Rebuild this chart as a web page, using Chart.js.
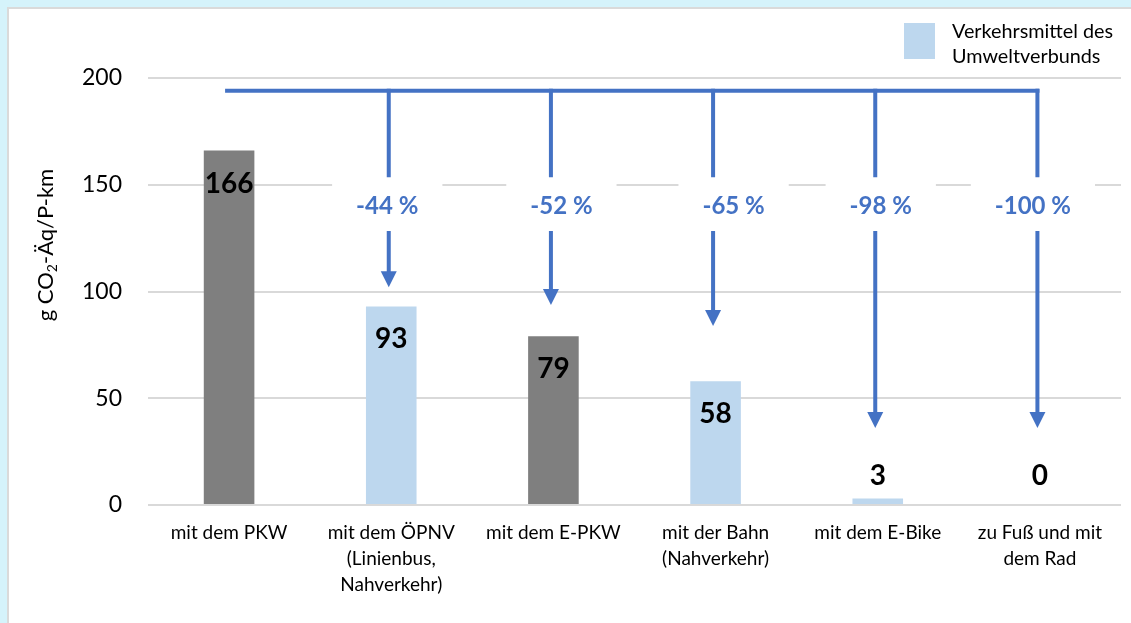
<!DOCTYPE html>
<html>
<head>
<meta charset="utf-8">
<script src="https://cdn.jsdelivr.net/npm/chart.js@4"></script>
<style>
  html, body { margin: 0; padding: 0; }
  body { width: 1131px; height: 623px; overflow: hidden; background: #d5f3fb; position: relative; }
  #panel { position: absolute; left: 7px; top: 7px; width: 1200px; height: 700px; background: #fff;
           border: 2px solid #dadada; box-sizing: border-box; }
  #wrap { position: absolute; left: 0; top: 0; width: 1131px; height: 623px; }
</style>
</head>
<body>
<div id="panel"></div>
<div id="wrap"><canvas id="c"></canvas></div>
<script>
// Emissions per passenger-kilometre by mode of transport
const categories = [
  ["mit dem PKW"],
  ["mit dem ÖPNV", "(Linienbus,", "Nahverkehr)"],
  ["mit dem E-PKW"],
  ["mit der Bahn", "(Nahverkehr)"],
  ["mit dem E-Bike"],
  ["zu Fuß und mit", "dem Rad"]
];
const emissions = [166, 93, 79, 58, 3, 0];
const umweltverbund = [false, true, false, true, true, true];
const yTicks = [0, 50, 100, 150, 200];
const yTitleParts = ["g CO", "2", "-Äq/P-km"];
const legendLabel = ["Verkehrsmittel des", "Umweltverbunds"];

const GRAY = '#7f7f7f';
const LIGHT_BLUE = '#bdd7ee';
const ARROW_BLUE = '#4472c4';
const FONT = 'Lato, "Open Sans", sans-serif';

// Percentage change of each mode relative to the car
const reductions = emissions.map(v => Math.round((v - emissions[0]) / emissions[0] * 100) + ' %');

const reductionPlugin = {
  id: 'reduction',
  beforeDatasetsDraw(chart, args, o) {
    // white boxes behind the percentage labels (they hide the grid lines)
    const { ctx, scales: { x, y } } = chart;
    ctx.save();
    ctx.font = o.labelFont;
    const top = y.getPixelForValue(o.boxTopValue);
    const bottom = y.getPixelForValue(o.boxBottomValue);
    for (let i = 1; i < emissions.length; i++) {
      const cx = x.getPixelForValue(i) + o.labelShift[i - 1];
      const w = ctx.measureText(reductions[i]).width + 48;
      ctx.fillStyle = '#fff';
      ctx.fillRect(cx - w / 2, top, w, bottom - top);
    }
    ctx.restore();
  },
  afterDatasetsDraw(chart, args, o) {
    const { ctx, scales: { x, y } } = chart;
    ctx.save();

    // connector line from the car bar across all alternatives
    const cy = y.getPixelForValue(o.connectorValue);
    const lastX = x.getPixelForValue(emissions.length - 1) + o.arrowShift;
    ctx.strokeStyle = ARROW_BLUE;
    ctx.fillStyle = ARROW_BLUE;
    ctx.lineWidth = 4;
    ctx.beginPath();
    ctx.moveTo(x.getPixelForValue(0) - 4, cy);
    ctx.lineTo(lastX + 2, cy);
    ctx.stroke();

    const boxTop = y.getPixelForValue(o.boxTopValue);
    const boxBottom = y.getPixelForValue(o.boxBottomValue);
    const labelY = y.getPixelForValue(o.labelValue);
    for (let i = 1; i < emissions.length; i++) {
      const ax = x.getPixelForValue(i) + o.arrowShift;
      const tip = y.getPixelForValue(o.tipValues[i - 1]);
      const head = 16;
      ctx.beginPath();
      ctx.moveTo(ax, cy - 2);
      ctx.lineTo(ax, boxTop);
      ctx.moveTo(ax, boxBottom);
      ctx.lineTo(ax, tip - head + 1);
      ctx.stroke();
      ctx.beginPath();
      ctx.moveTo(ax - head / 2, tip - head);
      ctx.lineTo(ax + head / 2, tip - head);
      ctx.lineTo(ax, tip);
      ctx.closePath();
      ctx.fill();

      ctx.font = o.labelFont;
      ctx.textAlign = 'center';
      ctx.textBaseline = 'middle';
      ctx.fillText(reductions[i], x.getPixelForValue(i) + o.labelShift[i - 1], labelY);
    }

    // value labels
    ctx.fillStyle = '#000';
    ctx.font = o.valueFont;
    ctx.textAlign = 'center';
    ctx.textBaseline = 'middle';
    emissions.forEach((v, i) => {
      const px = x.getPixelForValue(i);
      const py = v < 10 ? y.getPixelForValue(0) - 29 : y.getPixelForValue(v) + 33;
      ctx.fillText(String(v), px, py);
    });

    // axis title with subscript
    ctx.save();
    ctx.translate(53, 245);
    ctx.rotate(-Math.PI / 2);
    ctx.textBaseline = 'alphabetic';
    ctx.textAlign = 'left';
    const big = o.titleSize, small = Math.round(o.titleSize * 0.62);
    const fonts = [big + 'px ' + FONT, small + 'px ' + FONT, big + 'px ' + FONT];
    const widths = yTitleParts.map((t, k) => { ctx.font = fonts[k]; return ctx.measureText(t).width; });
    let tx = -(widths[0] + widths[1] + widths[2]) / 2;
    yTitleParts.forEach((t, k) => {
      ctx.font = fonts[k];
      ctx.fillText(t, tx, k === 1 ? big * 0.2 : 0);
      tx += widths[k];
    });
    ctx.restore();

    // legend
    ctx.fillStyle = LIGHT_BLUE;
    ctx.fillRect(904, 23, 31, 36);
    ctx.fillStyle = '#000';
    ctx.font = o.legendFont;
    ctx.textAlign = 'left';
    ctx.textBaseline = 'middle';
    legendLabel.forEach((t, k) => ctx.fillText(t, 952, 32 + k * 24.5));

    ctx.restore();
  }
};

new Chart(document.getElementById('c'), {
  type: 'bar',
  data: {
    labels: categories,
    datasets: [{
      data: emissions,
      backgroundColor: umweltverbund.map(u => u ? LIGHT_BLUE : GRAY),
      barPercentage: 0.312,
      categoryPercentage: 1
    }]
  },
  options: {
    responsive: true,
    maintainAspectRatio: false,
    animation: false,
    events: [],
    layout: { padding: { top: 78, right: 10, bottom: 0, left: 0 } },
    plugins: {
      legend: { display: false },
      tooltip: { enabled: false },
      reduction: {
        connectorValue: 194,
        boxTopValue: 153.5,
        boxBottomValue: 128.3,
        labelValue: 140,
        tipValues: [102, 93.7, 83.8, 36.1, 36.1],
        labelShift: [-4, 8, 18, 3, -7],
        arrowShift: -2.5,
        labelFont: 'bold 24px ' + FONT,
        valueFont: 'bold 28px ' + FONT,
        legendFont: '19.8px ' + FONT,
        titleSize: 22
      }
    },
    scales: {
      x: {
        grid: { display: false, drawTicks: false },
        border: { display: false },
        ticks: {
          color: '#000',
          font: { family: FONT, size: 19, lineHeight: 1.37 },
          padding: 15,
          maxRotation: 0,
          autoSkip: false
        },
        afterFit(s) { s.height = 118; }
      },
      y: {
        min: 0,
        max: 200,
        afterBuildTicks(s) { s.ticks = yTicks.map(v => ({ value: v })); },
        ticks: { color: '#000', font: { family: FONT, size: 23 }, padding: 26 },
        grid: { color: '#d9d9d9', lineWidth: 2, drawTicks: false },
        border: { display: false },
        afterFit(s) { s.width = 148; }
      }
    }
  },
  plugins: [reductionPlugin]
});
</script>
</body>
</html>
